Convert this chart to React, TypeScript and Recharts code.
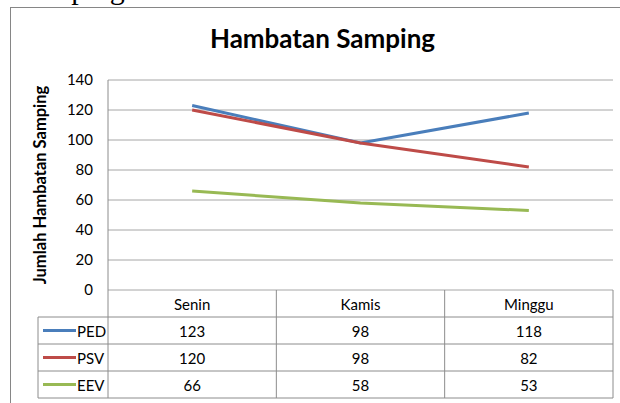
import { LineChart, Line, XAxis, YAxis, CartesianGrid } from 'recharts';

const categories = ['Senin', 'Kamis', 'Minggu'];
const seriesNames = ['PED', 'PSV', 'EEV'];
const pedValues = [123, 98, 118];
const psvValues = [120, 98, 82];
const eevValues = [66, 58, 53];
const yTicks = [0, 20, 40, 60, 80, 100, 120, 140];

const seriesValues = [pedValues, psvValues, eevValues];
const COLORS = ['#4A7EBB', '#BE4B48', '#98B954'];

const data = categories.map((name, i) => ({
  name,
  PED: pedValues[i],
  PSV: psvValues[i],
  EEV: eevValues[i],
}));

const W = 620;
const H = 403;
const Y_AXIS_W = 108;
const RIGHT = 7;
const TOP = 80;
const TABLE_H = 108;
const ROW_H = 27;
const NAME_COL_W = 70;
const BAND = (W - Y_AXIS_W - RIGHT) / categories.length;
const FONT = 'Lato, "Open Sans", sans-serif';
const LINE_GRAY = '#8c8c8c';

// the data table under the plot is drawn from the x-axis ticks
function TableTick(props: any) {
  const { x, y, payload, index } = props;
  const left = x - BAND / 2;
  const right = x + BAND / 2;
  const tableLeft = left - NAME_COL_W;
  const tableRight = left + BAND * categories.length;
  return (
    <g>
      <text x={x} y={y + ROW_H / 2} textAnchor="middle" dominantBaseline="central" fontSize={15} fontFamily={FONT} fill="#000">
        {payload.value}
      </text>
      {seriesValues.map((vals, r) => (
        <text key={r} x={x} y={y + ROW_H * (r + 1) + ROW_H / 2} textAnchor="middle" dominantBaseline="central" fontSize={15} fontFamily={FONT} fill="#000">
          {vals[index]}
        </text>
      ))}
      <line x1={right} y1={y} x2={right} y2={y + TABLE_H} stroke={LINE_GRAY} strokeWidth={1} />
      {index === 0 && (
        <g>
          <line x1={left} y1={y} x2={left} y2={y + TABLE_H} stroke={LINE_GRAY} strokeWidth={1} />
          <line x1={tableLeft} y1={y + ROW_H} x2={tableLeft} y2={y + TABLE_H} stroke={LINE_GRAY} strokeWidth={1} />
          {[1, 2, 3, 4].map((k) => (
            <line key={k} x1={tableLeft} y1={y + ROW_H * k} x2={tableRight} y2={y + ROW_H * k} stroke={LINE_GRAY} strokeWidth={1} />
          ))}
          {seriesNames.map((s, r) => {
            const cy = y + ROW_H * (r + 1) + ROW_H / 2;
            return (
              <g key={s}>
                <line x1={tableLeft + 5} y1={cy} x2={tableLeft + 38} y2={cy} stroke={COLORS[r]} strokeWidth={3} />
                <text x={tableLeft + 39} y={cy} dominantBaseline="central" fontSize={15} fontFamily={FONT} fill="#000">
                  {s}
                </text>
              </g>
            );
          })}
        </g>
      )}
    </g>
  );
}

function YLabel(props: any) {
  const { viewBox } = props;
  const cx = viewBox.x + 40;
  const cy = viewBox.y + viewBox.height / 2;
  return (
    <text x={cx} y={cy} transform={`rotate(-90 ${cx} ${cy})`} textAnchor="middle" dominantBaseline="central" fontSize={16.5} fontWeight="bold" fontFamily={FONT} fill="#000">
      Jumlah Hambatan Samping
    </text>
  );
}

export default function App() {
  return (
    <div style={{ position: 'absolute', left: 0, top: 0, width: W, height: H, overflow: 'hidden', background: '#fff' }}>
      <div style={{ position: 'absolute', left: 18, top: -29, fontFamily: '"Liberation Serif", serif', fontSize: 30, lineHeight: '36px', color: '#000' }}>
        Samping
      </div>
      <div style={{ position: 'absolute', left: 10, top: 7, width: 640, height: 440, border: '1.5px solid #868686' }} />
      <div style={{ position: 'absolute', left: 0, top: 20, width: 645, textAlign: 'center', fontFamily: FONT, fontWeight: 'bold', fontSize: 26, lineHeight: '36px', color: '#000' }}>
        Hambatan Samping
      </div>
      <div style={{ position: 'absolute', left: 0, top: 0 }}>
        <LineChart width={W} height={H} data={data} margin={{ top: TOP, right: RIGHT, bottom: H - TOP - 210 - TABLE_H, left: 0 }}>
          <CartesianGrid vertical={false} stroke="#a6a6a6" strokeWidth={1} />
          <XAxis
            dataKey="name"
            padding={{ left: BAND / 2, right: BAND / 2 }}
            height={TABLE_H}
            tickSize={0}
            tickMargin={0}
            axisLine={false}
            tick={<TableTick />}
            interval={0}
          />
          <YAxis
            width={Y_AXIS_W}
            domain={[0, 140]}
            ticks={yTicks}
            tickSize={0}
            tickMargin={15}
            axisLine={{ stroke: LINE_GRAY }}
            tick={{ fontSize: 15, fontFamily: FONT, fill: '#000' }}
            label={<YLabel />}
          />
          {seriesNames.map((s, i) => (
            <Line key={s} dataKey={s} stroke={COLORS[i]} strokeWidth={3} dot={false} isAnimationActive={false} />
          ))}
        </LineChart>
      </div>
    </div>
  );
}
